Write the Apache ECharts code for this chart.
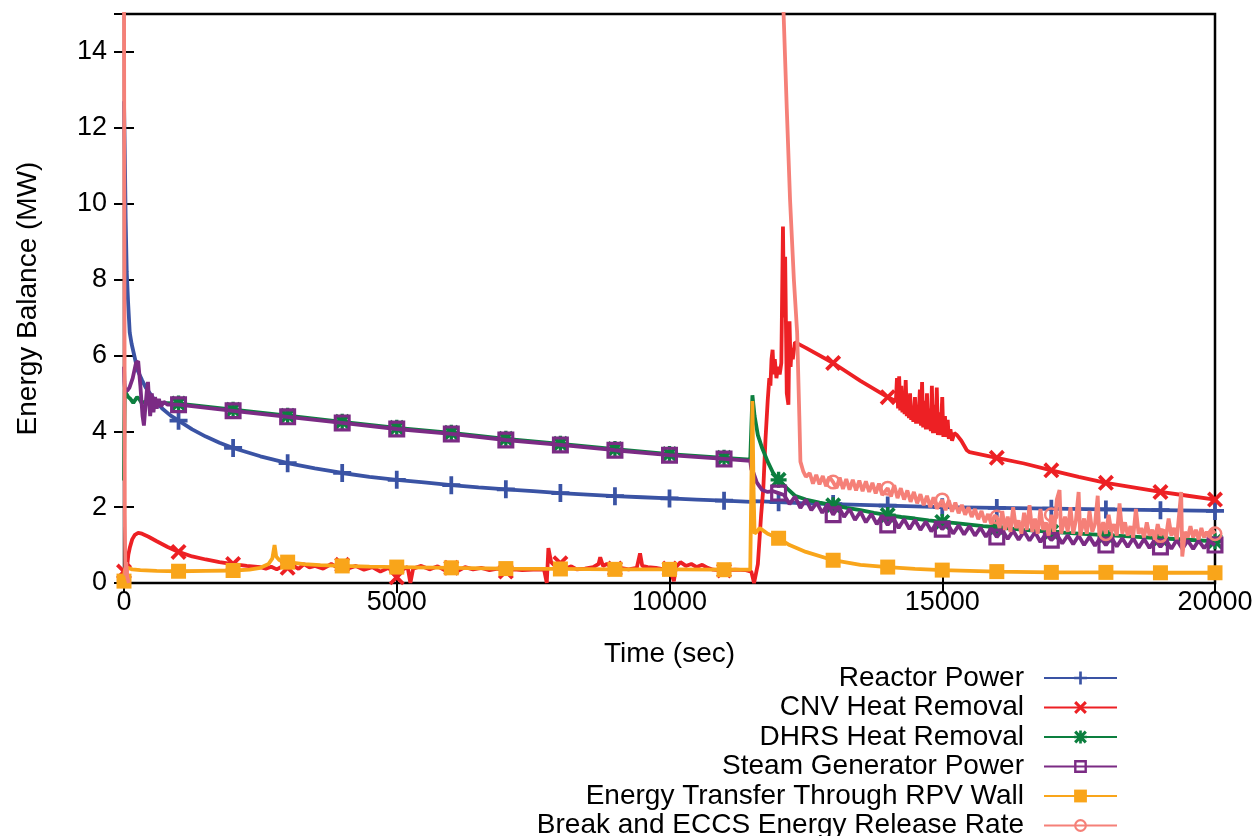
<!DOCTYPE html>
<html>
<head>
<meta charset="utf-8">
<title>Energy Balance</title>
<script src="https://cdn.jsdelivr.net/npm/echarts@6/dist/echarts.min.js"></script>
<style>
  html, body { margin: 0; padding: 0; background: #fff; }
  #chart { width: 1260px; height: 836px; }
</style>
</head>
<body>
<div id="chart"></div>
<script>
// ---- series data: [time (s), power (MW)] ----
const reactorPower = [
  [0,12.7],[15,11.3],[30,9.6],[50,8.2],[75,7.4],[105,6.6],[140,6.3],[180,6.05],[250,5.6],[330,5.35],
  [400,5.15],[550,4.85],[700,4.6],[850,4.42],[1000,4.28],[1250,4.05],[1500,3.86],[1750,3.7],[2000,3.56],
  [2500,3.34],[3000,3.16],[3500,3.02],[4000,2.9],[4500,2.8],[5000,2.72],[5500,2.65],[6000,2.58],[6500,2.52],
  [7000,2.47],[7500,2.42],[8000,2.37],[8500,2.33],[9000,2.29],[9500,2.26],[10000,2.23],[10500,2.2],
  [11000,2.17],[11500,2.14],[11550,2.16],[11700,2.15],[12000,2.13],[12500,2.1],[13000,2.08],[13500,2.06],
  [14000,2.04],[14500,2.02],[15000,2.0],[16000,1.98],[17000,1.96],[18000,1.94],[19000,1.92],[20000,1.9]
];

const cnvHeatRemoval = [
  [0,0.3],[10,0.1],[25,0.0],[50,0.35],[80,0.75],[110,0.95],[150,1.15],[200,1.27],[260,1.32],[330,1.3],
  [450,1.22],[600,1.1],[800,0.95],[1000,0.82],[1250,0.7],[1500,0.62],[1750,0.55],[2000,0.5],[2250,0.45],
  [2500,0.42],[2600,0.38],[2700,0.43],[2800,0.36],[2900,0.44],[3000,0.4],[3100,0.46],[3200,0.37],[3300,0.5],
  [3400,0.41],[3500,0.45],[3650,0.38],[3800,0.5],[3900,0.42],[4000,0.48],[4100,0.38],[4250,0.45],[4400,0.35],
  [4550,0.42],[4700,0.3],[4850,0.4],[5000,0.15],[5100,0.35],[5200,0.42],[5250,0.0],[5300,0.38],[5450,0.45],
  [5600,0.36],[5750,0.44],[5900,0.32],[6000,0.4],[6100,0.3],[6250,0.42],[6400,0.36],[6550,0.4],[6700,0.34],
  [6850,0.38],[7000,0.3],[7150,0.36],[7300,0.34],[7500,0.35],[7700,0.36],[7750,0.0],[7780,0.92],[7830,0.55],
  [7900,0.45],[8000,0.52],[8100,0.38],[8200,0.44],[8300,0.36],[8450,0.38],[8600,0.42],[8700,0.5],[8730,0.68],
  [8780,0.45],[8850,0.5],[9000,0.38],[9100,0.4],[9250,0.36],[9400,0.4],[9460,0.78],[9500,0.45],[9600,0.42],
  [9750,0.4],[9900,0.36],[10000,0.38],[10080,0.05],[10120,0.42],[10200,0.55],[10300,0.45],[10400,0.5],
  [10500,0.42],[10600,0.48],[10700,0.4],[10800,0.35],[11000,0.33],[11200,0.35],[11400,0.34],[11500,0.3],
  [11550,0.0],[11620,0.5],[11680,1.8],[11720,2.5],[11760,3.8],[11800,4.8],[11830,5.4],[11850,5.2],[11870,5.9],
  [11890,6.15],[11910,5.5],[11930,5.9],[11960,5.4],[11990,5.7],[12020,5.5],[12050,5.8],[12080,9.4],[12100,7.0],
  [12120,8.6],[12150,5.0],[12180,4.7],[12200,6.9],[12220,5.7],[12240,6.2],[12260,5.9],[12300,6.35],[12500,6.2],
  [13000,5.8],[13500,5.33],[14000,4.9],[14150,4.8],[14170,5.4],[14190,4.6],[14210,5.45],[14230,4.55],
  [14250,5.2],[14270,4.5],[14290,4.9],[14310,4.45],[14330,5.35],[14350,4.4],[14370,4.75],[14390,4.35],
  [14410,5.0],[14430,4.3],[14450,4.6],[14470,4.25],[14500,4.9],[14520,4.2],[14540,4.55],[14560,4.2],
  [14590,5.1],[14610,4.15],[14630,5.3],[14650,4.1],[14680,4.8],[14700,4.05],[14720,5.0],[14740,4.05],
  [14770,4.6],[14790,4.0],[14810,5.2],[14830,3.95],[14860,4.7],[14880,3.95],[14900,5.15],[14920,3.9],
  [14950,4.5],[14970,3.9],[15000,4.9],[15020,3.85],[15050,4.4],[15070,3.85],[15100,4.3],[15120,3.8],
  [15150,4.05],[15180,3.75],[15220,3.95],[15270,3.9],[15350,3.75],[15450,3.5],[15500,3.45],[16000,3.3],
  [16500,3.15],[17000,2.97],[17500,2.8],[18000,2.64],[18500,2.52],[19000,2.4],[19500,2.3],[20000,2.2]
];

const dhrsHeatRemoval = [
  [0,2.7],[5,3.8],[15,5.1],[40,5.0],[80,4.9],[120,4.85],[170,4.75],[200,4.78],[240,4.9],[280,4.85],
  [320,4.75],[400,4.78],[500,4.76],[700,4.75],[1000,4.73],[2000,4.57],[3000,4.41],[4000,4.25],[5000,4.09],
  [6000,3.96],[7000,3.8],[8000,3.67],[9000,3.53],[10000,3.4],[11000,3.3],[11480,3.25],[11500,4.1],
  [11520,4.95],[11560,4.4],[11620,3.9],[11700,3.55],[11800,3.2],[11900,2.9],[12000,2.72],[12150,2.5],
  [12300,2.3],[12500,2.2],[12750,2.12],[13000,2.05],[13250,1.98],[13500,1.92],[13750,1.85],[14000,1.79],
  [14250,1.74],[14500,1.7],[14750,1.65],[15000,1.61],[15250,1.58],[15500,1.54],[15750,1.5],[16000,1.47],
  [16500,1.4],[17000,1.35],[17500,1.3],[18000,1.26],[18500,1.22],[19000,1.18],[19500,1.14],[20000,1.1]
];

const steamGeneratorPower = [
  [0,5.7],[8,5.3],[20,5.08],[60,5.07],[100,5.15],[160,5.4],[220,5.8],[260,5.85],[300,5.2],[340,4.4],
  [365,4.15],[390,4.6],[420,5.1],[440,5.3],[460,4.8],[480,4.4],[510,5.0],[540,4.5],[570,4.9],[600,4.6],
  [640,4.85],[680,4.65],[730,4.78],[800,4.7],[1000,4.7],[2000,4.54],[3000,4.38],[4000,4.22],[5000,4.06],
  [6000,3.93],[7000,3.77],[8000,3.64],[9000,3.5],[10000,3.37],[11000,3.27],[11480,3.22],[11500,3.0],
  [11540,2.9],[11600,2.65],[11650,2.55],[11700,2.45],[11800,2.4],[11900,2.42],[12000,2.37],[12100,2.32],
  [12200,2.08],[12300,2.28],[12400,1.98],[12500,2.2],[12600,1.92],[12700,2.12],[12800,1.85],[12900,2.08],
  [13000,1.8],[13100,2.02],[13200,1.74],[13300,1.95],[13400,1.66],[13500,1.88],[13600,1.6],[13700,1.82],
  [13800,1.55],[13900,1.78],[14000,1.53],[14100,1.72],[14200,1.45],[14300,1.68],[14400,1.42],[14500,1.66],
  [14600,1.4],[14700,1.62],[14800,1.36],[14900,1.6],[15000,1.42],[15100,1.56],[15200,1.3],[15300,1.52],
  [15400,1.28],[15500,1.5],[15600,1.25],[15700,1.46],[15800,1.22],[15900,1.44],[16000,1.21],[16100,1.4],
  [16200,1.16],[16300,1.38],[16400,1.14],[16500,1.36],[16600,1.12],[16700,1.34],[16800,1.08],[16900,1.3],
  [17000,1.13],[17100,1.28],[17200,1.04],[17300,1.26],[17400,1.02],[17500,1.25],[17600,1.0],[17700,1.22],
  [17800,0.98],[17900,1.2],[18000,1.0],[18100,1.2],[18200,0.96],[18300,1.18],[18400,0.95],[18500,1.18],
  [18600,0.93],[18700,1.16],[18800,0.92],[18900,1.15],[19000,0.95],[19100,1.14],[19200,0.9],[19300,1.14],
  [19400,0.9],[19500,1.12],[19600,0.9],[19700,1.12],[19800,0.92],[19900,1.1],[20000,1.0]
];

const rpvWallTransfer = [
  [0,0.05],[10,0.3],[30,0.42],[60,0.4],[150,0.36],[300,0.34],[600,0.32],[1000,0.31],[1500,0.32],
  [2000,0.33],[2300,0.35],[2500,0.4],[2650,0.5],[2720,0.65],[2760,1.0],[2790,0.7],[2850,0.6],[3000,0.55],
  [3300,0.5],[3600,0.47],[4000,0.45],[4500,0.43],[5000,0.42],[6000,0.4],[7000,0.38],[8000,0.37],
  [9000,0.36],[10000,0.36],[11000,0.35],[11480,0.35],[11500,2.5],[11520,4.8],[11540,2.5],[11560,1.3],
  [11600,1.35],[11650,1.45],[11700,1.4],[11800,1.3],[12000,1.18],[12200,1.0],[12500,0.82],[13000,0.6],
  [13500,0.48],[14000,0.42],[14500,0.37],[15000,0.34],[15500,0.32],[16000,0.3],[17000,0.28],[18000,0.28],
  [19000,0.27],[20000,0.27]
];

const breakEccsRelease = [
  [0,16],[15,1.8],[25,0.2],[40,0.55],[60,0.15],[90,0.0],[100,null],[11980,null],
  [12020,16],[12080,15.5],[12150,12.5],[12210,10.1],[12280,8.0],[12340,6.6],[12380,4.4],[12400,3.2],
  [12450,2.95],[12500,2.8],[12570,2.9],[12630,2.62],[12690,2.85],[12750,2.6],[12810,2.82],[12870,2.55],
  [12930,2.8],[13000,2.66],[13060,2.5],[13120,2.78],[13180,2.48],[13240,2.74],[13300,2.46],[13360,2.72],
  [13420,2.44],[13480,2.7],[13540,2.42],[13600,2.68],[13660,2.4],[13720,2.64],[13780,2.36],[13840,2.62],
  [13900,2.32],[14000,2.5],[14060,2.28],[14120,2.58],[14180,2.24],[14240,2.5],[14300,2.2],[14360,2.44],
  [14420,2.14],[14480,2.4],[14540,2.1],[14600,2.34],[14660,2.05],[14720,2.3],[14780,2.0],[14840,2.26],
  [14900,1.96],[15000,2.19],[15060,1.92],[15120,2.18],[15180,1.88],[15240,2.12],[15300,1.84],[15360,2.06],
  [15420,1.8],[15480,2.0],[15540,1.74],[15600,1.95],[15660,1.68],[15720,1.9],[15780,1.6],[15840,1.82],
  [15900,1.55],[15960,1.78],[16000,1.74],[16050,1.45],[16100,1.9],[16150,1.4],[16200,1.75],[16250,1.35],
  [16300,2.0],[16350,1.45],[16400,1.65],[16450,1.3],[16500,1.85],[16550,1.4],[16600,2.05],[16650,1.35],
  [16700,1.7],[16750,1.3],[16800,1.95],[16850,1.4],[16900,1.6],[16950,1.25],[17000,1.8],[17050,1.35],
  [17100,2.2],[17150,2.45],[17180,1.3],[17250,1.75],[17300,1.35],[17350,2.0],[17400,1.3],[17450,1.65],
  [17500,2.4],[17530,1.25],[17600,1.7],[17650,1.3],[17700,1.9],[17750,1.35],[17800,1.55],[17850,2.3],
  [17880,1.25],[17950,1.6],[18000,1.3],[18050,1.8],[18100,1.35],[18150,1.55],[18200,1.25],[18250,2.1],
  [18300,1.3],[18350,1.6],[18400,1.25],[18450,1.5],[18500,1.2],[18550,1.95],[18600,1.3],[18650,1.45],
  [18700,1.2],[18750,1.6],[18800,1.25],[18850,1.4],[18900,1.15],[18950,1.55],[19000,1.25],[19050,1.4],
  [19100,1.2],[19150,1.7],[19200,1.25],[19250,1.45],[19300,1.15],[19380,2.4],[19400,0.7],[19450,1.35],
  [19500,1.2],[19550,1.5],[19600,1.2],[19650,1.4],[19700,1.15],[19750,1.45],[19800,1.2],[19850,1.35],
  [19900,1.2],[19950,1.4],[20000,1.3]
];

// times (s) at which each curve carries a point marker
const markersFrom1000 = [1000,2000,3000,4000,5000,6000,7000,8000,9000,10000,11000,12000,13000,14000,15000,16000,17000,18000,19000,20000];
const markersFrom0 = [0].concat(markersFrom1000);
const markersCnv = [0,1000,2000,3000,4000,5000,6000,7000,8000,9000,10000,11000,13000,14000,16000,17000,18000,19000,20000];
const markersBreak = [13000,14000,15000,16000,17000,18000,19000,20000];

const seriesNames = [
  'Reactor Power',
  'CNV Heat Removal',
  'DHRS Heat Removal',
  'Steam Generator Power',
  'Energy Transfer Through RPV Wall',
  'Break and ECCS Energy Release Rate'
];
const seriesColors = ['#3A53A4', '#ED2024', '#0C7F3F', '#7B2B84', '#F9A51A', '#F58078'];

// point-type glyphs
const SYM_PLUS = 'path://M-2.5,-12L2.5,-12L2.5,-2.5L12,-2.5L12,2.5L2.5,2.5L2.5,12L-2.5,12L-2.5,2.5L-12,2.5L-12,-2.5L-2.5,-2.5Z';
const SYM_CROSS = 'path://M8,-12L12,-8L4,0L12,8L8,12L0,4L-8,12L-12,8L-4,0L-12,-8L-8,-12L0,-4Z';
const SYM_STAR = 'path://M-2.5,-12L2.5,-12L2.5,-2.5L12,-2.5L12,2.5L2.5,2.5L2.5,12L-2.5,12L-2.5,2.5L-12,2.5L-12,-2.5L-2.5,-2.5Z' +
  'M8,-12L12,-8L4,0L12,8L8,12L0,4L-8,12L-12,8L-4,0L-12,-8L-8,-12L0,-4Z';
const SYM_OPEN_SQUARE = 'path://M-12,-12L12,-12L12,12L-12,12Z M-7.5,-7.5L-7.5,7.5L7.5,7.5L7.5,-7.5Z';
const SYM_FILLED_SQUARE = 'path://M-12,-12L12,-12L12,12L-12,12Z';
const SYM_OPEN_CIRCLE = 'path://M0,-12A12,12,0,1,1,0,12A12,12,0,1,1,0,-12Z M0,-8A8,8,0,1,0,0,8A8,8,0,1,0,0,-8Z';

function withMarkers(points, markerTimes) {
  const marks = new Set(markerTimes);
  return points.map(p => marks.has(p[0]) && p[1] !== null ? p : { value: p, symbol: 'none' });
}

function lineSeries(i, points, markerTimes, symbol, size) {
  return {
    name: seriesNames[i],
    type: 'line',
    data: withMarkers(points, markerTimes),
    symbol: symbol,
    symbolSize: size,
    showSymbol: true,
    showAllSymbol: true,
    connectNulls: false,
    clip: true,
    color: seriesColors[i],
    lineStyle: { color: seriesColors[i], width: 3.8 },
    itemStyle: { color: seriesColors[i], borderWidth: 0 },
    emphasis: { disabled: true },
    z: 2 + i
  };
}

const FONT = "'Liberation Sans', Arial, Helvetica, sans-serif";

// one key row per series: icon on the right, name right-aligned before it
const LEGEND_ROW_TOP = 664;
const LEGEND_ROW_STEP = 29.5;
function legendRow(name, row) {
  return {
    data: [name],
    orient: 'vertical',
    align: 'right',
    right: 142,
    top: LEGEND_ROW_TOP + row * LEGEND_ROW_STEP,
    padding: 0,
    itemWidth: 73,
    itemHeight: 16,
    selectedMode: false,
    textStyle: { fontSize: 28, color: '#000', fontFamily: FONT, lineHeight: 28, padding: [0, 15, 0, 0] }
  };
}

const chart = echarts.init(document.getElementById('chart'), null, { renderer: 'canvas' });
chart.setOption({
  animation: false,
  backgroundColor: '#fff',
  textStyle: { fontFamily: FONT, color: '#000' },
  grid: {
    left: 124, right: 45, top: 14, bottom: 253,
    show: true, borderColor: '#000', borderWidth: 2.5, backgroundColor: 'transparent',
    containLabel: false
  },
  xAxis: [
    {
      type: 'value', position: 'bottom', min: 0, max: 20000, interval: 5000,
      name: 'Time (sec)', nameLocation: 'middle', nameGap: 57,
      nameTextStyle: { fontSize: 28, color: '#000', fontFamily: FONT },
      axisLine: { show: false },
      axisTick: { show: true, inside: true, length: 10, lineStyle: { color: '#000', width: 2 } },
      axisLabel: { color: '#000', fontSize: 27, margin: 6, fontFamily: FONT, formatter: v => String(v) },
      splitLine: { show: false }
    },
    {
      type: 'value', position: 'top', min: 0, max: 20000, interval: 5000,
      axisLine: { show: false },
      axisTick: { show: true, inside: true, length: 10, lineStyle: { color: '#000', width: 2 } },
      axisLabel: { show: false },
      splitLine: { show: false }
    }
  ],
  yAxis: [
    {
      type: 'value', position: 'left', min: 0, max: 15, interval: 2,
      name: 'Energy Balance (MW)', nameLocation: 'middle', nameGap: 82, nameRotate: 90,
      nameTextStyle: { fontSize: 28, color: '#000', fontFamily: FONT },
      axisLine: { show: false },
      axisTick: { show: true, inside: true, length: 10, lineStyle: { color: '#000', width: 2 } },
      axisLabel: {
        color: '#000', fontSize: 27, margin: 17, fontFamily: FONT,
        formatter: v => (v > 14 ? '' : String(v))
      },
      splitLine: { show: false }
    },
    {
      type: 'value', position: 'right', min: 0, max: 15, interval: 2,
      axisLine: { show: false },
      axisTick: { show: true, inside: true, length: 10, lineStyle: { color: '#000', width: 2 } },
      axisLabel: { show: false },
      splitLine: { show: false }
    }
  ],
  legend: seriesNames.map((n, i) => legendRow(n, i)),
  series: [
    lineSeries(0, reactorPower, markersFrom1000, SYM_PLUS, 18),
    lineSeries(1, cnvHeatRemoval, markersCnv, SYM_CROSS, 16),
    lineSeries(2, dhrsHeatRemoval, markersFrom1000, SYM_STAR, 16),
    lineSeries(3, steamGeneratorPower, markersFrom1000, SYM_OPEN_SQUARE, 17),
    lineSeries(4, rpvWallTransfer, markersFrom0, SYM_FILLED_SQUARE, 15),
    lineSeries(5, breakEccsRelease, markersBreak, SYM_OPEN_CIRCLE, 15)
  ]
});
</script>
</body>
</html>
